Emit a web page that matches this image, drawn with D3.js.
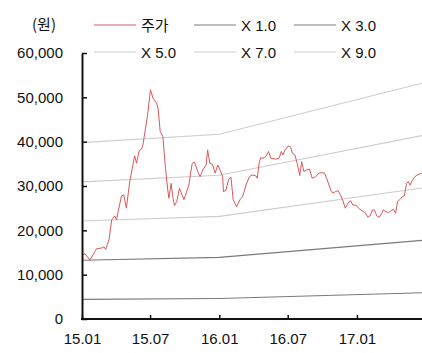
<!DOCTYPE html>
<html><head><meta charset="utf-8">
<script src="https://cdn.jsdelivr.net/npm/d3@7"></script>
<style>body{margin:0;background:#fff}svg{display:block;font-family:"Liberation Sans",Arial,sans-serif}</style>
</head><body><svg id="c" width="422" height="353"></svg>
<script>
const priceDates = ["2015-01-02","2015-01-09","2015-01-22","2015-02-09","2015-02-22","2015-02-28","2015-03-05","2015-03-14","2015-03-21","2015-03-29","2015-04-03","2015-04-07","2015-04-16","2015-04-22","2015-04-29","2015-05-08","2015-05-21","2015-05-26","2015-06-02","2015-06-08","2015-06-12","2015-06-21","2015-06-25","2015-07-02","2015-07-09","2015-07-18","2015-07-22","2015-07-28","2015-08-04","2015-08-11","2015-08-17","2015-08-20","2015-08-26","2015-08-31","2015-09-04","2015-09-10","2015-09-17","2015-09-24","2015-09-29","2015-10-05","2015-10-12","2015-10-21","2015-10-27","2015-11-05","2015-11-11","2015-11-18","2015-11-27","2015-12-01","2015-12-07","2015-12-14","2015-12-21","2015-12-28","2016-01-03","2016-01-10","2016-01-12","2016-01-19","2016-01-26","2016-02-01","2016-02-07","2016-02-16","2016-02-25","2016-03-03","2016-03-12","2016-03-21","2016-03-28","2016-04-07","2016-04-11","2016-04-16","2016-04-20","2016-04-29","2016-05-05","2016-05-11","2016-05-17","2016-05-30","2016-06-08","2016-06-14","2016-06-18","2016-06-24","2016-07-02","2016-07-09","2016-07-13","2016-07-20","2016-07-26","2016-08-02","2016-08-07","2016-08-13","2016-08-19","2016-08-28","2016-09-04","2016-09-13","2016-09-22","2016-09-30","2016-10-07","2016-10-14","2016-10-23","2016-10-29","2016-11-05","2016-11-12","2016-11-18","2016-11-24","2016-12-01","2016-12-08","2016-12-15","2016-12-21","2016-12-29","2017-01-05","2017-01-14","2017-01-23","2017-01-30","2017-02-05","2017-02-11","2017-02-16","2017-02-23","2017-03-01","2017-03-08","2017-03-12","2017-03-19","2017-03-26","2017-04-02","2017-04-08","2017-04-14","2017-04-19","2017-04-26","2017-05-02","2017-05-07","2017-05-13","2017-05-18","2017-05-22","2017-05-28","2017-06-04","2017-06-11","2017-06-22"];
const priceValues = [14450,14700,13300,15870,16000,16300,15700,18000,22350,23250,22350,24200,27770,28000,25000,31000,36800,35150,38000,38300,39300,44200,46400,51700,49800,48700,47600,42300,41150,34000,29100,27250,30600,27250,25600,26500,29500,28000,26900,28400,30200,35100,35400,33250,32100,33600,34750,38150,35100,34900,32900,34760,33600,32100,28700,29100,31500,32000,26900,25300,26900,27600,30200,32100,32500,32300,31750,35150,36400,36270,36800,37770,36270,36050,36270,37770,37000,38150,39050,38750,37400,37000,35150,32350,35500,33250,33600,33800,31750,32100,32900,33000,32900,31400,29100,28400,28750,28950,28000,26850,25000,26100,26700,25700,25700,25000,24450,24000,22950,23250,24600,24600,23250,22950,23850,24600,24200,24000,24450,24750,23850,26500,27000,27600,27750,30600,30950,30200,31200,32100,32500,32900];
const epsDates = ["2015-01-01","2016-01-01","2017-06-23"];
const epsValues = [4420,4630,5910];
const multiples = [1,3,5,7,9];
const legendLabels = ["주가","X 1.0","X 3.0","X 5.0","X 7.0","X 9.0"];
const yTicks = [0,10000,20000,30000,40000,50000,60000];
const xTickDates = ["2015-01-01","2015-07-01","2016-01-01","2016-07-01","2017-01-01"];
const xTickLabels = ["15.01","15.07","16.01","16.07","17.01"];

const parse = d3.timeParse("%Y-%m-%d");
const svg = d3.select("#c");
const x = d3.scaleTime().domain([parse("2015-01-01"), parse("2017-06-23")]).range([82, 422]);
const y = d3.scaleLinear().domain([0, 60000]).range([319, 53]);

const bandColor = m => m <= 3 ? "#7a7a7a" : "#cdcdcd";
const priceColor = "#d9585a";

// bands
multiples.forEach(m => {
  const pts = epsDates.map((d, i) => [parse(d), epsValues[i] * m]);
  svg.append("path").attr("d", d3.line().x(p => x(p[0])).y(p => y(p[1]))(pts))
    .attr("fill", "none").attr("stroke", bandColor(m)).attr("stroke-width", 1.1);
});
// price
const pp = priceDates.map((d, i) => [parse(d), priceValues[i]]);
svg.append("path").attr("d", d3.line().x(p => x(p[0])).y(p => y(p[1]))(pp))
  .attr("fill", "none").attr("stroke", priceColor).attr("stroke-width", 1);

// y axis
const ya = svg.append("g").attr("transform", "translate(82,0)")
  .call(d3.axisLeft(y).tickValues(yTicks).tickSizeInner(-5).tickSizeOuter(0).tickPadding(19).tickFormat(d3.format(",")));
ya.select(".domain").attr("stroke", "#111").attr("stroke-width", 2);
ya.selectAll(".tick line").attr("stroke", "#111").attr("stroke-width", 1.5);
ya.selectAll("text").attr("font-size", 15).attr("fill", "#111").attr("font-family", "Liberation Sans, Arial, sans-serif");

// x axis
const xa = svg.append("g").attr("transform", "translate(0,319)")
  .call(d3.axisBottom(x).tickValues(xTickDates.map(parse)).tickSizeInner(-4).tickSizeOuter(0).tickPadding(14)
    .tickFormat((d, i) => xTickLabels[i]));
xa.select(".domain").attr("stroke", "#111").attr("stroke-width", 2.2).attr("d", "M81,0H422");
xa.selectAll(".tick line").attr("stroke", "#111").attr("stroke-width", 1.5);
xa.selectAll("text").attr("font-size", 15).attr("fill", "#111").attr("font-family", "Liberation Sans, Arial, sans-serif");

// unit label
svg.append("text").attr("x", 44).attr("y", 30).attr("text-anchor", "middle")
  .attr("font-size", 15).attr("fill", "#111").attr("font-family", "'Noto Sans CJK KR', sans-serif").text("(원)");

// legend
const legColors = [priceColor, bandColor(1), bandColor(3), bandColor(5), bandColor(7), bandColor(9)];
const colX = [94, 194, 294];
const rowY = [25, 52];
legendLabels.forEach((lab, i) => {
  const cx = colX[i % 3], cy = rowY[Math.floor(i / 3)];
  svg.append("line").attr("x1", cx).attr("x2", cx + 42).attr("y1", cy).attr("y2", cy)
    .attr("stroke", legColors[i]).attr("stroke-width", 1);
  svg.append("text").attr("x", cx + 47).attr("y", cy + 5.5).attr("font-size", 15).attr("fill", "#111")
    .attr("font-family", "'Liberation Sans', 'Noto Sans CJK KR', Arial, sans-serif").text(lab);
});
</script></body></html>
